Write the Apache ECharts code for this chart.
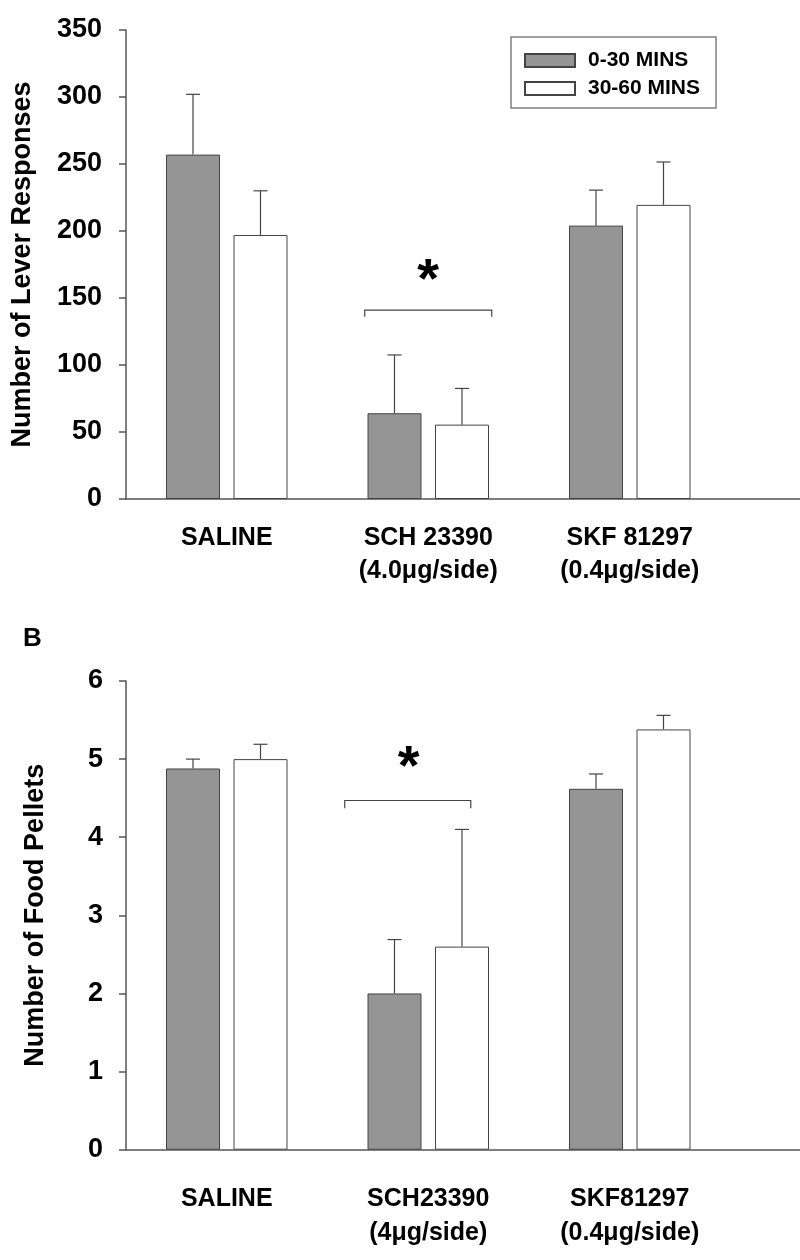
<!DOCTYPE html>
<html>
<head>
<meta charset="utf-8">
<script src="https://cdn.jsdelivr.net/npm/echarts@6/dist/echarts.min.js"></script>
<style>
html,body{margin:0;padding:0;background:#fff;}
#chart{width:800px;height:1260px;}
</style>
</head>
<body>
<div id="chart"></div>
<script>
// ---- data ----
const leverCategories = ['SALINE', 'SCH 23390\n(4.0μg/side)', 'SKF 81297\n(0.4μg/side)', ''];
const pelletCategories = ['SALINE', 'SCH23390\n(4μg/side)', 'SKF81297\n(0.4μg/side)', ''];
const seriesNames = ['0-30 MINS', '30-60 MINS'];

const leverEarly = [257, 64, 204];
const leverEarlyErr = [45, 43.5, 26.5];
const leverLate = [197, 55.5, 219.5];
const leverLateErr = [33, 27, 32];

const pelletEarly = [4.88, 2.0, 4.62];
const pelletEarlyErr = [0.12, 0.69, 0.19];
const pelletLate = [5.0, 2.6, 5.38];
const pelletLateErr = [0.19, 1.5, 0.18];

const leverTicks = {min: 0, max: 350, interval: 50};
const pelletTicks = {min: 0, max: 6, interval: 1};

// significance bracket: [category, top value, leg end value]
const leverBracket = [[1, 141, 136]];
const pelletBracket = [[1, 4.47, 4.37]];
const leverStar = [[1, 162]];
const pelletStar = [[1, 4.88]];

// ---- styling ----
const FONT = '"Liberation Sans", Arial, Helvetica, sans-serif';
const GRAY = '#959595';
const EDGE = '#444';
const AXIS = '#555';
const BAR_W = 54;
const OFFSET = 33.75;

function errRender(offset) {
  return function (params, api) {
    const c = api.value(0), v = api.value(1), e = api.value(2);
    const p0 = api.coord([c, v]);
    const p1 = api.coord([c, v + e]);
    const x = p0[0] + offset;
    return {
      type: 'group',
      children: [
        {type: 'line', shape: {x1: x, y1: p0[1], x2: x, y2: p1[1]}, style: {stroke: EDGE, lineWidth: 1.2}},
        {type: 'line', shape: {x1: x - 7, y1: p1[1], x2: x + 7, y2: p1[1]}, style: {stroke: EDGE, lineWidth: 1.2}}
      ]
    };
  };
}

function bracketRender(dx0, dx1) {
  return function (params, api) {
    const c = api.value(0), top = api.value(1), leg = api.value(2);
    const pt = api.coord([c, top]);
    const pl = api.coord([c, leg]);
    return {
      type: 'polyline',
      shape: {points: [[pt[0] + dx0, pl[1]], [pt[0] + dx0, pt[1]], [pt[0] + dx1, pt[1]], [pt[0] + dx1, pl[1]]]},
      style: {stroke: EDGE, lineWidth: 1.2, fill: null}
    };
  };
}

function starRender(dx) {
  return function (params, api) {
    const p = api.coord([api.value(0), api.value(1)]);
    return {
      type: 'text',
      x: p[0] + dx, y: p[1],
      style: {text: '*', fontSize: 56, fontWeight: 'bold', fontFamily: FONT, fill: '#000', align: 'center', verticalAlign: 'middle'}
    };
  };
}

function xAxisCfg(gi, data, margin) {
  return {
    gridIndex: gi, type: 'category', data: data,
    axisTick: {show: false},
    axisLine: {lineStyle: {color: AXIS, width: 1.5}},
    axisLabel: {interval: 0, margin: margin, fontSize: 25, fontWeight: 'bold', color: '#000', lineHeight: 33.7, fontFamily: FONT}
  };
}

function yAxisCfg(gi, ticks, name, nameGap, margin) {
  return {
    gridIndex: gi, type: 'value', min: ticks.min, max: ticks.max, interval: ticks.interval,
    name: name, nameLocation: 'middle', nameGap: nameGap,
    nameTextStyle: {fontSize: 27, fontWeight: 'bold', color: '#000', fontFamily: FONT},
    axisLine: {show: true, lineStyle: {color: AXIS, width: 1.5}},
    axisTick: {show: true, length: 7, lineStyle: {color: AXIS, width: 1.5}},
    splitLine: {show: false},
    axisLabel: {margin: margin, fontSize: 27, fontWeight: 'bold', color: '#000', fontFamily: FONT}
  };
}

function barSeries(name, gi, data, fill) {
  return {
    name: name, type: 'bar', xAxisIndex: gi, yAxisIndex: gi, data: data,
    barWidth: BAR_W, barGap: '25%',
    itemStyle: {color: fill, borderColor: EDGE, borderWidth: 1},
    emphasis: {disabled: true}
  };
}

function errSeries(gi, vals, errs, offset) {
  return {
    type: 'custom', xAxisIndex: gi, yAxisIndex: gi, z: 3,
    data: vals.map((v, i) => [i, v, errs[i]]),
    renderItem: errRender(offset)
  };
}

const chart = echarts.init(document.getElementById('chart'), null, {renderer: 'canvas'});
chart.setOption({
  animation: false,
  backgroundColor: '#fff',
  grid: [
    {left: 126, top: 30, width: 806, height: 469, outerBoundsMode: 'none', containLabel: false},
    {left: 126, top: 681, width: 806, height: 468.7, outerBoundsMode: 'none', containLabel: false}
  ],
  legend: {
    data: seriesNames, orient: 'vertical', left: 511, top: 37,
    icon: 'rect', itemWidth: 50, itemHeight: 13, itemGap: 7,
    padding: [13, 16, 9, 13],
    borderColor: '#808080', borderWidth: 1.5,
    textStyle: {fontSize: 21, fontWeight: 'bold', color: '#000', fontFamily: FONT, padding: [0, 0, 0, 8], lineHeight: 20},
    selectedMode: false
  },
  graphic: [
    {type: 'text', left: 23, top: 626, style: {text: 'B', fontSize: 26, fontWeight: 'bold', fontFamily: FONT, fill: '#000'}}
  ],
  xAxis: [xAxisCfg(0, leverCategories, 22), xAxisCfg(1, pelletCategories, 32.5)],
  yAxis: [
    yAxisCfg(0, leverTicks, 'Number of Lever Responses', 90, 24),
    yAxisCfg(1, pelletTicks, 'Number of Food Pellets', 77, 23)
  ],
  series: [
    barSeries(seriesNames[0], 0, leverEarly, GRAY),
    barSeries(seriesNames[1], 0, leverLate, '#fff'),
    errSeries(0, leverEarly, leverEarlyErr, -OFFSET),
    errSeries(0, leverLate, leverLateErr, OFFSET),
    {type: 'custom', xAxisIndex: 0, yAxisIndex: 0, data: leverBracket, renderItem: bracketRender(-63.5, 63.5)},
    {type: 'custom', xAxisIndex: 0, yAxisIndex: 0, data: leverStar, renderItem: starRender(0)},

    barSeries(seriesNames[0], 1, pelletEarly, GRAY),
    barSeries(seriesNames[1], 1, pelletLate, '#fff'),
    errSeries(1, pelletEarly, pelletEarlyErr, -OFFSET),
    errSeries(1, pelletLate, pelletLateErr, OFFSET),
    {type: 'custom', xAxisIndex: 1, yAxisIndex: 1, data: pelletBracket, renderItem: bracketRender(-83.5, 42.5)},
    {type: 'custom', xAxisIndex: 1, yAxisIndex: 1, data: pelletStar, renderItem: starRender(-19.5)}
  ]
});
</script>
</body>
</html>
